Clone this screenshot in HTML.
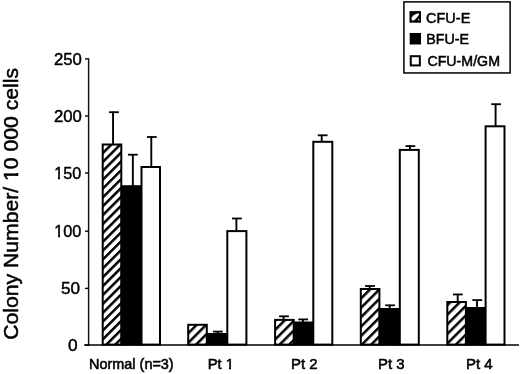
<!DOCTYPE html><html><head><meta charset="utf-8"><style>html,body{margin:0;padding:0;background:#fff;}body{width:520px;height:374px;overflow:hidden;}svg{display:block;filter:grayscale(1) blur(0.3px);}text{font-family:"Liberation Sans",sans-serif;fill:#000;stroke:#000;stroke-width:0.35px;}.yt{stroke-width:0.5px;}.tk{stroke-width:0.45px;}.xl{stroke-width:0.55px;}.lg{stroke-width:0.5px;}</style></head><body>
<svg width="520" height="374" viewBox="0 0 520 374">
<defs><pattern id="h0" patternUnits="userSpaceOnUse" x="4.082" y="0" width="6.272" height="6.272" patternTransform="rotate(45)"><rect width="6.272" height="6.272" fill="#fff"/><rect x="0" y="0" width="2.5" height="6.272" fill="#000"/></pattern><pattern id="h1" patternUnits="userSpaceOnUse" x="0.942" y="0" width="6.788" height="6.788" patternTransform="rotate(45)"><rect width="6.788" height="6.788" fill="#fff"/><rect x="0" y="0" width="2.5" height="6.788" fill="#000"/></pattern><pattern id="h2" patternUnits="userSpaceOnUse" x="5.750" y="0" width="6.788" height="6.788" patternTransform="rotate(45)"><rect width="6.788" height="6.788" fill="#fff"/><rect x="0" y="0" width="2.5" height="6.788" fill="#000"/></pattern><pattern id="h3" patternUnits="userSpaceOnUse" x="6.387" y="0" width="6.647" height="6.647" patternTransform="rotate(45)"><rect width="6.647" height="6.647" fill="#fff"/><rect x="0" y="0" width="2.5" height="6.647" fill="#000"/></pattern><pattern id="h4" patternUnits="userSpaceOnUse" x="1.366" y="0" width="6.788" height="6.788" patternTransform="rotate(45)"><rect width="6.788" height="6.788" fill="#fff"/><rect x="0" y="0" width="2.5" height="6.788" fill="#000"/></pattern></defs>
<rect width="520" height="374" fill="#fff"/>
<line x1="113.05" y1="111.80" x2="113.05" y2="144.50" stroke="#000" stroke-width="1.9"/>
<rect x="109.05" y="111.30" width="9.8" height="1.8" fill="#000"/>
<rect x="102.70" y="144.50" width="18.60" height="200.10" fill="url(#h0)" stroke="#000" stroke-width="2.0"/>
<line x1="132.85" y1="154.30" x2="132.85" y2="186.20" stroke="#000" stroke-width="1.9"/>
<rect x="127.95" y="153.80" width="9.8" height="1.8" fill="#000"/>
<rect x="121.70" y="186.20" width="19.80" height="158.40" fill="#000" stroke="#000" stroke-width="2.0"/>
<line x1="151.30" y1="136.60" x2="151.30" y2="167.00" stroke="#000" stroke-width="1.9"/>
<rect x="146.95" y="136.10" width="9.8" height="1.8" fill="#000"/>
<rect x="141.50" y="167.00" width="18.50" height="177.60" fill="#fff" stroke="#000" stroke-width="2.0"/>
<rect x="188.20" y="324.80" width="18.60" height="19.80" fill="url(#h1)" stroke="#000" stroke-width="2.0"/>
<line x1="217.60" y1="331.20" x2="217.60" y2="334.00" stroke="#000" stroke-width="1.9"/>
<rect x="212.95" y="330.70" width="9.8" height="1.8" fill="#000"/>
<rect x="207.20" y="334.00" width="20.10" height="10.60" fill="#000" stroke="#000" stroke-width="2.0"/>
<line x1="236.40" y1="218.10" x2="236.40" y2="231.10" stroke="#000" stroke-width="1.9"/>
<rect x="232.00" y="217.60" width="9.8" height="1.8" fill="#000"/>
<rect x="227.30" y="231.10" width="19.10" height="113.50" fill="#fff" stroke="#000" stroke-width="2.0"/>
<line x1="283.60" y1="315.90" x2="283.60" y2="319.90" stroke="#000" stroke-width="1.9"/>
<rect x="279.10" y="315.40" width="9.8" height="1.8" fill="#000"/>
<rect x="275.10" y="319.90" width="18.60" height="24.70" fill="url(#h2)" stroke="#000" stroke-width="2.0"/>
<line x1="302.90" y1="319.00" x2="302.90" y2="322.50" stroke="#000" stroke-width="1.9"/>
<rect x="298.30" y="318.50" width="9.8" height="1.8" fill="#000"/>
<rect x="294.10" y="322.50" width="19.20" height="22.10" fill="#000" stroke="#000" stroke-width="2.0"/>
<line x1="321.70" y1="134.90" x2="321.70" y2="141.80" stroke="#000" stroke-width="1.9"/>
<rect x="317.75" y="134.40" width="9.8" height="1.8" fill="#000"/>
<rect x="313.30" y="141.80" width="19.00" height="202.80" fill="#fff" stroke="#000" stroke-width="2.0"/>
<line x1="369.70" y1="285.60" x2="369.70" y2="289.00" stroke="#000" stroke-width="1.9"/>
<rect x="365.10" y="285.10" width="9.8" height="1.8" fill="#000"/>
<rect x="360.80" y="289.00" width="18.60" height="55.60" fill="url(#h3)" stroke="#000" stroke-width="2.0"/>
<line x1="389.70" y1="304.90" x2="389.70" y2="309.00" stroke="#000" stroke-width="1.9"/>
<rect x="385.15" y="304.40" width="9.8" height="1.8" fill="#000"/>
<rect x="379.80" y="309.00" width="20.00" height="35.60" fill="#000" stroke="#000" stroke-width="2.0"/>
<line x1="409.95" y1="145.70" x2="409.95" y2="149.90" stroke="#000" stroke-width="1.9"/>
<rect x="405.45" y="145.20" width="9.8" height="1.8" fill="#000"/>
<rect x="399.80" y="149.90" width="19.00" height="194.70" fill="#fff" stroke="#000" stroke-width="2.0"/>
<line x1="457.70" y1="294.05" x2="457.70" y2="302.00" stroke="#000" stroke-width="1.9"/>
<rect x="452.95" y="293.55" width="9.8" height="1.8" fill="#000"/>
<rect x="447.30" y="302.00" width="18.60" height="42.60" fill="url(#h4)" stroke="#000" stroke-width="2.0"/>
<line x1="477.00" y1="299.70" x2="477.00" y2="308.00" stroke="#000" stroke-width="1.9"/>
<rect x="472.40" y="299.20" width="9.8" height="1.8" fill="#000"/>
<rect x="466.30" y="308.00" width="19.30" height="36.60" fill="#000" stroke="#000" stroke-width="2.0"/>
<line x1="495.60" y1="103.80" x2="495.60" y2="126.30" stroke="#000" stroke-width="1.9"/>
<rect x="491.20" y="103.30" width="9.8" height="1.8" fill="#000"/>
<rect x="485.60" y="126.30" width="18.90" height="218.30" fill="#fff" stroke="#000" stroke-width="2.0"/>
<line x1="88.6" y1="58.2" x2="88.6" y2="346" stroke="#111" stroke-width="1.45"/>
<line x1="84.2" y1="345.0" x2="519" y2="345.0" stroke="#000" stroke-width="1.5"/>
<line x1="85" y1="345.20" x2="88.6" y2="345.20" stroke="#000" stroke-width="1.4"/>
<text x="68.04" y="351.00" font-size="16" class="tk" textLength="9.61" lengthAdjust="spacingAndGlyphs">0</text>
<line x1="85" y1="288.40" x2="88.6" y2="288.40" stroke="#000" stroke-width="1.4"/>
<text x="61.01" y="294.20" font-size="16" class="tk" textLength="19.06" lengthAdjust="spacingAndGlyphs">50</text>
<line x1="85" y1="231.20" x2="88.6" y2="231.20" stroke="#000" stroke-width="1.4"/>
<text x="54.16" y="237.00" font-size="16" class="tk" textLength="27.18" lengthAdjust="spacingAndGlyphs">100</text>
<line x1="85" y1="173.00" x2="88.6" y2="173.00" stroke="#000" stroke-width="1.4"/>
<text x="54.37" y="178.80" font-size="16" class="tk" textLength="26.96" lengthAdjust="spacingAndGlyphs">150</text>
<line x1="85" y1="116.00" x2="88.6" y2="116.00" stroke="#000" stroke-width="1.4"/>
<text x="53.92" y="121.80" font-size="16" class="tk" textLength="27.88" lengthAdjust="spacingAndGlyphs">200</text>
<line x1="85" y1="58.90" x2="88.6" y2="58.90" stroke="#000" stroke-width="1.4"/>
<text x="53.96" y="64.70" font-size="16" class="tk" textLength="27.89" lengthAdjust="spacingAndGlyphs">250</text>
<g transform="translate(17.6,339.8) rotate(-90)"><text class="yt" x="0" y="0" font-size="21" textLength="271.8" lengthAdjust="spacingAndGlyphs">Colony Number/ 10 000 cells</text>
</g>
<rect x="15" y="176" width="4" height="4" fill="#fff" shape-rendering="crispEdges"/>
<rect x="15" y="169" width="4" height="4" fill="#fff" shape-rendering="crispEdges"/>
<text x="89.02" y="368.60" font-size="14.8" class="xl" textLength="84.68" lengthAdjust="spacingAndGlyphs">Normal (n=3)</text>
<text x="207.79" y="368.60" font-size="14.8" class="xl" textLength="26.25" lengthAdjust="spacingAndGlyphs">Pt 1</text>
<text x="291.07" y="368.60" font-size="14.8" class="xl" textLength="26.58" lengthAdjust="spacingAndGlyphs">Pt 2</text>
<text x="377.97" y="368.60" font-size="14.8" class="xl" textLength="26.58" lengthAdjust="spacingAndGlyphs">Pt 3</text>
<text x="465.97" y="368.60" font-size="14.8" class="xl" textLength="26.67" lengthAdjust="spacingAndGlyphs">Pt 4</text>
<rect x="54" y="235" width="4" height="3" fill="#fff" shape-rendering="crispEdges"/>
<rect x="60" y="235" width="4" height="3" fill="#fff" shape-rendering="crispEdges"/>
<rect x="55" y="177" width="3" height="3" fill="#fff" shape-rendering="crispEdges"/>
<rect x="60" y="177" width="4" height="3" fill="#fff" shape-rendering="crispEdges"/>
<rect x="226" y="367" width="3" height="3" fill="#fff" shape-rendering="crispEdges"/>
<rect x="231" y="367" width="3" height="3" fill="#fff" shape-rendering="crispEdges"/>
<rect x="403.9" y="1.9" width="106.2" height="71.05" fill="#fff" stroke="#000" stroke-width="1.5"/>
<rect x="409.5" y="11.1" width="11.5" height="11.6" fill="#000"/>
<path d="M411.6 17.4 L413.5 15.3 L416.5 13.7 L419.0 13.2 L418.9 14.9 L416.8 17.8 L414.3 20.2 L411.8 20.4 Z" fill="#fff"/>
<ellipse cx="418.7" cy="19.6" rx="0.6" ry="0.9" fill="#fff"/>
<rect x="409.7" y="33.0" width="11.3" height="11.5" fill="#000"/>
<rect x="410.75" y="56.2" width="9.1" height="9.2" fill="#fff" stroke="#000" stroke-width="2"/>
<text x="426.06" y="22.50" font-size="14.2" class="lg" textLength="44.26" lengthAdjust="spacingAndGlyphs">CFU-E</text>
<text x="426.23" y="44.00" font-size="14.2" class="lg" textLength="42.68" lengthAdjust="spacingAndGlyphs">BFU-E</text>
<text x="427.38" y="66.20" font-size="14.2" class="lg" textLength="72.59" lengthAdjust="spacingAndGlyphs">CFU-M/GM</text>
</svg></body></html>
